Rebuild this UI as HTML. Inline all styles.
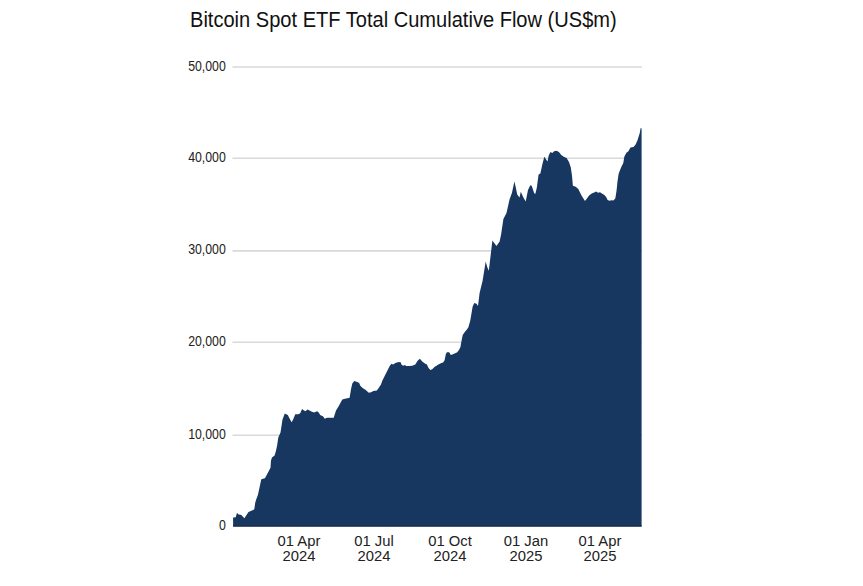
<!DOCTYPE html>
<html><head><meta charset="utf-8"><style>
html,body{margin:0;padding:0;background:#fff;width:863px;height:586px;overflow:hidden;position:relative;font-family:"Liberation Sans",sans-serif;color:#222;}
.title{position:absolute;left:190px;top:7.6px;font-size:21.4px;line-height:24px;transform:scaleX(0.938);transform-origin:0 50%;white-space:nowrap;color:#111;}
.yl{position:absolute;right:636.8px;font-size:14px;line-height:16px;text-align:right;white-space:nowrap;transform:scaleX(0.88);transform-origin:100% 50%;}
.xl{position:absolute;top:532.7px;width:80px;text-align:center;font-size:15.5px;line-height:15px;white-space:nowrap;transform:scaleX(0.955);transform-origin:50% 50%;}
svg{position:absolute;left:0;top:0;}
</style></head><body>
<div class="title">Bitcoin Spot ETF Total Cumulative Flow (US$m)</div>
<svg width="863" height="586" viewBox="0 0 863 586"><line x1="232.5" x2="642" y1="67.00" y2="67.00" stroke="#d9d9d9" stroke-width="1.6"/><line x1="232.5" x2="642" y1="158.25" y2="158.25" stroke="#d9d9d9" stroke-width="1.6"/><line x1="232.5" x2="642" y1="250.85" y2="250.85" stroke="#d9d9d9" stroke-width="1.6"/><line x1="232.5" x2="642" y1="342.25" y2="342.25" stroke="#d9d9d9" stroke-width="1.6"/><line x1="232.5" x2="642" y1="435.25" y2="435.25" stroke="#d9d9d9" stroke-width="1.6"/><path d="M233.1,526.6 L233.1,517.6 L235.7,517.3 L237.0,512.8 L238.2,514.3 L241.3,515.1 L244.4,518.2 L248.5,512.0 L253.1,510.0 L254.3,509.3 L255.2,502.8 L256.1,499.8 L257.9,495.0 L261.3,479.2 L264.9,478.2 L267.9,472.8 L270.5,467.7 L271.0,460.5 L272.0,457.4 L274.6,455.4 L276.1,450.2 L277.2,445.1 L278.3,437.5 L280.5,432.5 L282.5,419.6 L284.8,413.6 L287.8,415.1 L289.7,418.8 L291.6,422.2 L293.1,419.6 L295.3,414.3 L298.3,414.3 L300.2,413.2 L302.1,409.0 L304.0,410.5 L305.5,411.3 L307.4,409.4 L309.6,410.5 L311.9,411.7 L314.1,412.4 L317.2,411.3 L318.7,412.4 L320.2,415.1 L323.2,416.6 L324.7,418.8 L327.0,417.7 L330.7,417.7 L333.7,417.7 L336.0,410.5 L338.5,406.5 L342.3,399.6 L345.0,398.8 L349.6,397.7 L351.1,388.8 L352.3,383.4 L354.2,381.1 L357.3,381.9 L359.2,383.1 L360.3,385.8 L362.6,388.1 L365.7,390.0 L368.8,392.7 L371.1,392.3 L373.4,391.1 L376.9,390.4 L379.2,387.3 L381.1,384.2 L382.3,380.7 L385.4,374.6 L387.7,370.0 L390.0,365.4 L391.5,363.8 L393.1,364.6 L395.4,363.1 L397.7,362.3 L400.4,361.9 L401.5,364.6 L403.0,365.7 L405.0,365.0 L406.1,366.1 L409.2,366.1 L412.3,365.7 L415.3,364.6 L417.6,360.8 L419.9,358.8 L422.2,361.5 L425.3,363.8 L426.9,364.6 L428.4,367.7 L430.3,370.0 L432.2,369.2 L434.5,366.9 L438.4,364.6 L441.4,363.1 L443.1,362.6 L444.6,360.3 L445.8,354.2 L446.9,352.3 L449.2,352.3 L450.8,355.0 L452.3,354.6 L454.6,353.4 L456.9,352.6 L458.8,350.3 L460.4,347.3 L461.5,341.1 L462.7,335.0 L464.6,332.3 L466.9,329.6 L468.4,327.3 L470.3,320.6 L472.6,306.8 L474.2,302.9 L476.5,303.7 L478.0,306.0 L479.6,293.0 L482.6,280.7 L485.7,261.5 L487.2,266.9 L488.8,270.7 L492.4,240.6 L494.2,242.9 L496.5,246.0 L499.6,241.4 L501.1,234.4 L503.4,219.1 L506.5,213.0 L509.6,199.2 L511.9,193.0 L514.4,181.6 L515.7,186.9 L517.2,194.6 L519.5,197.6 L520.8,191.8 L523.4,197.6 L525.7,201.5 L528.0,190.0 L530.3,185.3 L531.8,186.1 L534.1,193.0 L535.3,194.0 L536.8,187.8 L538.6,174.6 L540.4,173.4 L542.2,165.1 L544.3,156.7 L546.3,159.7 L547.5,161.5 L548.7,155.5 L550.5,151.9 L552.3,153.1 L554.1,151.3 L556.5,150.7 L558.9,151.9 L561.3,154.9 L563.7,156.7 L566.6,157.9 L569.0,162.1 L570.8,167.5 L572.0,175.8 L572.9,185.8 L575.7,186.8 L578.3,189.0 L579.9,192.2 L581.5,195.4 L583.4,198.6 L585.0,201.1 L586.9,198.6 L589.1,195.4 L591.7,193.5 L594.2,192.5 L596.1,191.6 L598.0,192.8 L600.0,192.2 L601.9,193.5 L604.4,195.1 L606.3,197.3 L607.6,199.9 L609.5,200.8 L611.4,200.2 L613.3,200.5 L615.3,198.6 L616.5,190.9 L617.5,181.4 L618.6,174.0 L619.2,172.2 L621.3,167.1 L623.3,163.0 L624.3,156.8 L626.4,152.7 L628.4,151.2 L630.5,147.6 L633.5,147.1 L635.6,144.6 L637.6,139.9 L639.7,133.3 L640.7,127.7 L641.6,128.7 L641.6,526.6 Z" fill="#173761"/><rect x="233.1" y="525.2" width="408.5" height="1.4" fill="#1a2c4c"/></svg>
<div class="yl" style="top:57.6px">50,000</div><div class="yl" style="top:148.8px">40,000</div><div class="yl" style="top:241.4px">30,000</div><div class="yl" style="top:332.9px">20,000</div><div class="yl" style="top:425.9px">10,000</div><div class="yl" style="top:516.6px">0</div>
<div class="xl" style="left:259.3px">01 Apr<br>2024</div><div class="xl" style="left:334.4px">01 Jul<br>2024</div><div class="xl" style="left:410.2px">01 Oct<br>2024</div><div class="xl" style="left:486.0px">01 Jan<br>2025</div><div class="xl" style="left:560.2px">01 Apr<br>2025</div>
</body></html>
